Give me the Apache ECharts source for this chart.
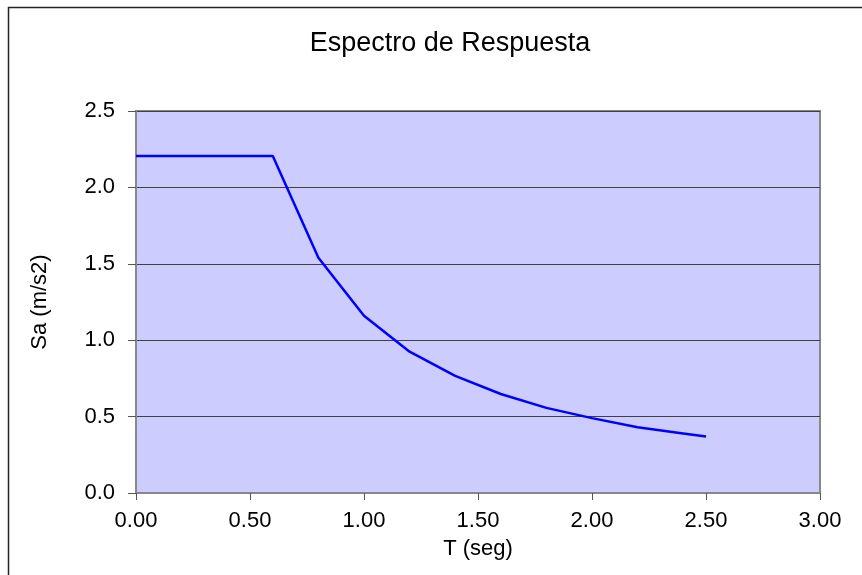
<!DOCTYPE html>
<html>
<head>
<meta charset="utf-8">
<script src="https://cdn.jsdelivr.net/npm/echarts@6/dist/echarts.min.js"></script>
<style>
html,body{margin:0;padding:0;background:#fff;}
#c{width:862px;height:575px;}
</style>
</head>
<body>
<div id="c"></div>
<script>
var periods = [0, 0.6, 0.8, 1.0, 1.2, 1.4, 1.6, 1.8, 2.0, 2.2, 2.4, 2.5];
var saValues = [2.205, 2.205, 1.54, 1.16, 0.925, 0.767, 0.648, 0.557, 0.49, 0.43, 0.39, 0.37];
var titleText = 'Espectro de Respuesta';
var xName = 'T (seg)';
var yName = 'Sa (m/s2)';

var data = periods.map(function (t, i) { return [t, saValues[i]]; });
var font = 'Liberation Sans, Arial, sans-serif';

var chart = echarts.init(document.getElementById('c'), null, {renderer: 'canvas'});
chart.setOption({
  animation: false,
  backgroundColor: '#ffffff',
  title: {
    text: titleText,
    left: 445,
    top: 25,
    textAlign: 'center',
    textStyle: {fontFamily: font, fontSize: 27, fontWeight: 'normal', color: '#000'}
  },
  graphic: [{
    type: 'rect',
    shape: {x: 8.5, y: 7.5, width: 900, height: 600},
    style: {fill: 'none', stroke: '#222', lineWidth: 1.5},
    z: 100
  }],
  grid: {
    left: 136, right: 42, top: 111, bottom: 82,
    show: true,
    backgroundColor: '#CCCCFF',
    borderColor: '#888888',
    borderWidth: 2
  },
  xAxis: {
    type: 'value',
    min: 0, max: 3, interval: 0.5,
    name: xName,
    nameLocation: 'middle',
    nameGap: 45,
    nameTextStyle: {fontFamily: font, fontSize: 22, color: '#000'},
    axisLine: {show: true, lineStyle: {color: '#888888', width: 2}},
    axisTick: {show: true, length: 7, lineStyle: {color: '#555', width: 1}},
    axisLabel: {
      fontFamily: font, fontSize: 22, color: '#000', margin: 17,
      formatter: function (v) { return v.toFixed(2); }
    },
    splitLine: {show: false}
  },
  yAxis: {
    type: 'value',
    min: 0, max: 2.5, interval: 0.5,
    name: yName,
    nameLocation: 'middle',
    nameGap: 85,
    nameTextStyle: {fontFamily: font, fontSize: 22, color: '#000'},
    axisLine: {show: true, lineStyle: {color: '#888888', width: 2}},
    axisTick: {show: true, length: 8, lineStyle: {color: '#555', width: 1}},
    axisLabel: {
      fontFamily: font, fontSize: 22, color: '#000', margin: 21,
      formatter: function (v) { return v.toFixed(1); }
    },
    splitLine: {show: true, lineStyle: {color: '#404040', width: 1}}
  },
  series: [{
    type: 'line',
    data: data,
    showSymbol: false,
    smooth: false,
    lineStyle: {color: '#0000FF', width: 2.5},
    z: 3
  }]
});
</script>
</body>
</html>
